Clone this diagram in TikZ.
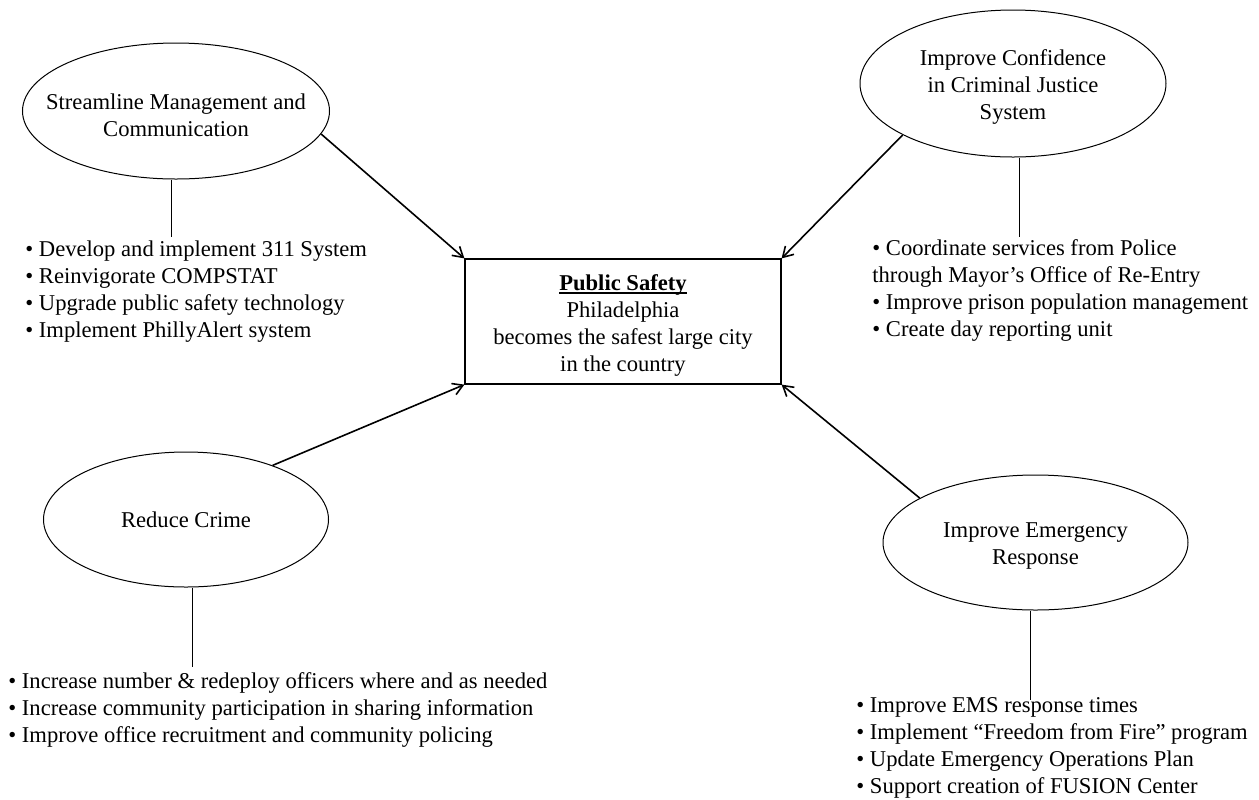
\documentclass[tikz,border=0pt]{standalone}
\usepackage{fontspec}
\setmainfont{Liberation Serif}
\usetikzlibrary{shapes.geometric,arrows.meta}
\newcommand\myulbf[1]{\setbox0\hbox{\textbf{#1}}\rlap{\rule[-1.9pt]{\wd0}{1pt}}\box0}
\begin{document}
\begin{tikzpicture}[x=0.5pt,y=-0.5pt,
  txt/.style={font=\fontsize{11.3}{13.5}\selectfont, inner sep=0pt},
  goal/.style={draw, ellipse, line width=0.5pt, inner sep=0pt},
  gtext/.style={txt, align=center},
  blist/.style={txt, align=left, anchor=north west},
  arr/.style={line width=0.8pt, -{Straight Barb[length=5pt,width=6pt]}},
  stem/.style={line width=0.5pt}]
\useasboundingbox (0,0) rectangle (1259,799);

% central box
\node[draw, line width=0.6pt, minimum width=158pt, minimum height=62.5pt, inner sep=0pt,
  label={[gtext, yshift=-1.8pt]center:{\myulbf{Public Safety}\\Philadelphia\\becomes the safest large city\\in the country}}] (ps) at (623,321.5) {};

% goal ellipses
\node[goal, minimum width=153.5pt, minimum height=68pt,
  label={[gtext, yshift=-2pt]center:Streamline Management and\\Communication}] (g1) at (176,111) {};
\node[goal, minimum width=153pt, minimum height=73.5pt,
  label={[gtext, yshift=-1.5pt]center:Improve Confidence\\in Criminal Justice\\System}] (g2) at (1013,83.5) {};
\node[goal, minimum width=142.5pt, minimum height=67.5pt,
  label={[gtext]center:Reduce Crime}] (g3) at (186,519.5) {};
\node[goal, minimum width=152.5pt, minimum height=67.5pt,
  label={[gtext, yshift=-1.8pt]center:Improve Emergency\\Response}] (g4) at (1035.5,542.5) {};

% arrows
\draw[arr] (g1.-9.5) -- (ps.north west);
\draw[arr] (g2.205.7) -- (ps.north east);
\draw[arr] (g3.32.6) -- (ps.south west);
\draw[arr] (g4.159.1) -- (ps.south east);

% bullet lists
\node[blist] (l1) at (25,240.5) {• Develop and implement 311 System\\• Reinvigorate COMPSTAT\\• Upgrade public safety technology\\• Implement PhillyAlert system};
\node[blist] (l2) at (872,239.5) {• Coordinate services from Police\\through Mayor’s Office of Re-Entry\\• Improve prison population management\\• Create day reporting unit};
\node[blist] (l3) at (8,672.5) {• Increase number \& redeploy officers where and as needed\\• Increase community participation in sharing information\\• Improve office recruitment and community policing};
\node[blist] (l4) at (856,697.5) {• Improve EMS response times\\• Implement “Freedom from Fire” program\\• Update Emergency Operations Plan\\• Support creation of FUSION Center};

% stems
\coordinate (t1) at (171,237);
\coordinate (t2) at (1019,237);
\coordinate (t3) at (192,667);
\coordinate (t4) at (1030,700);
\draw[stem] (g1.south -| t1) -- (t1);
\draw[stem] (g2.south -| t2) -- (t2);
\draw[stem] (g3.south -| t3) -- (t3);
\draw[stem] (g4.south -| t4) -- (t4);
\end{tikzpicture}
\end{document}
